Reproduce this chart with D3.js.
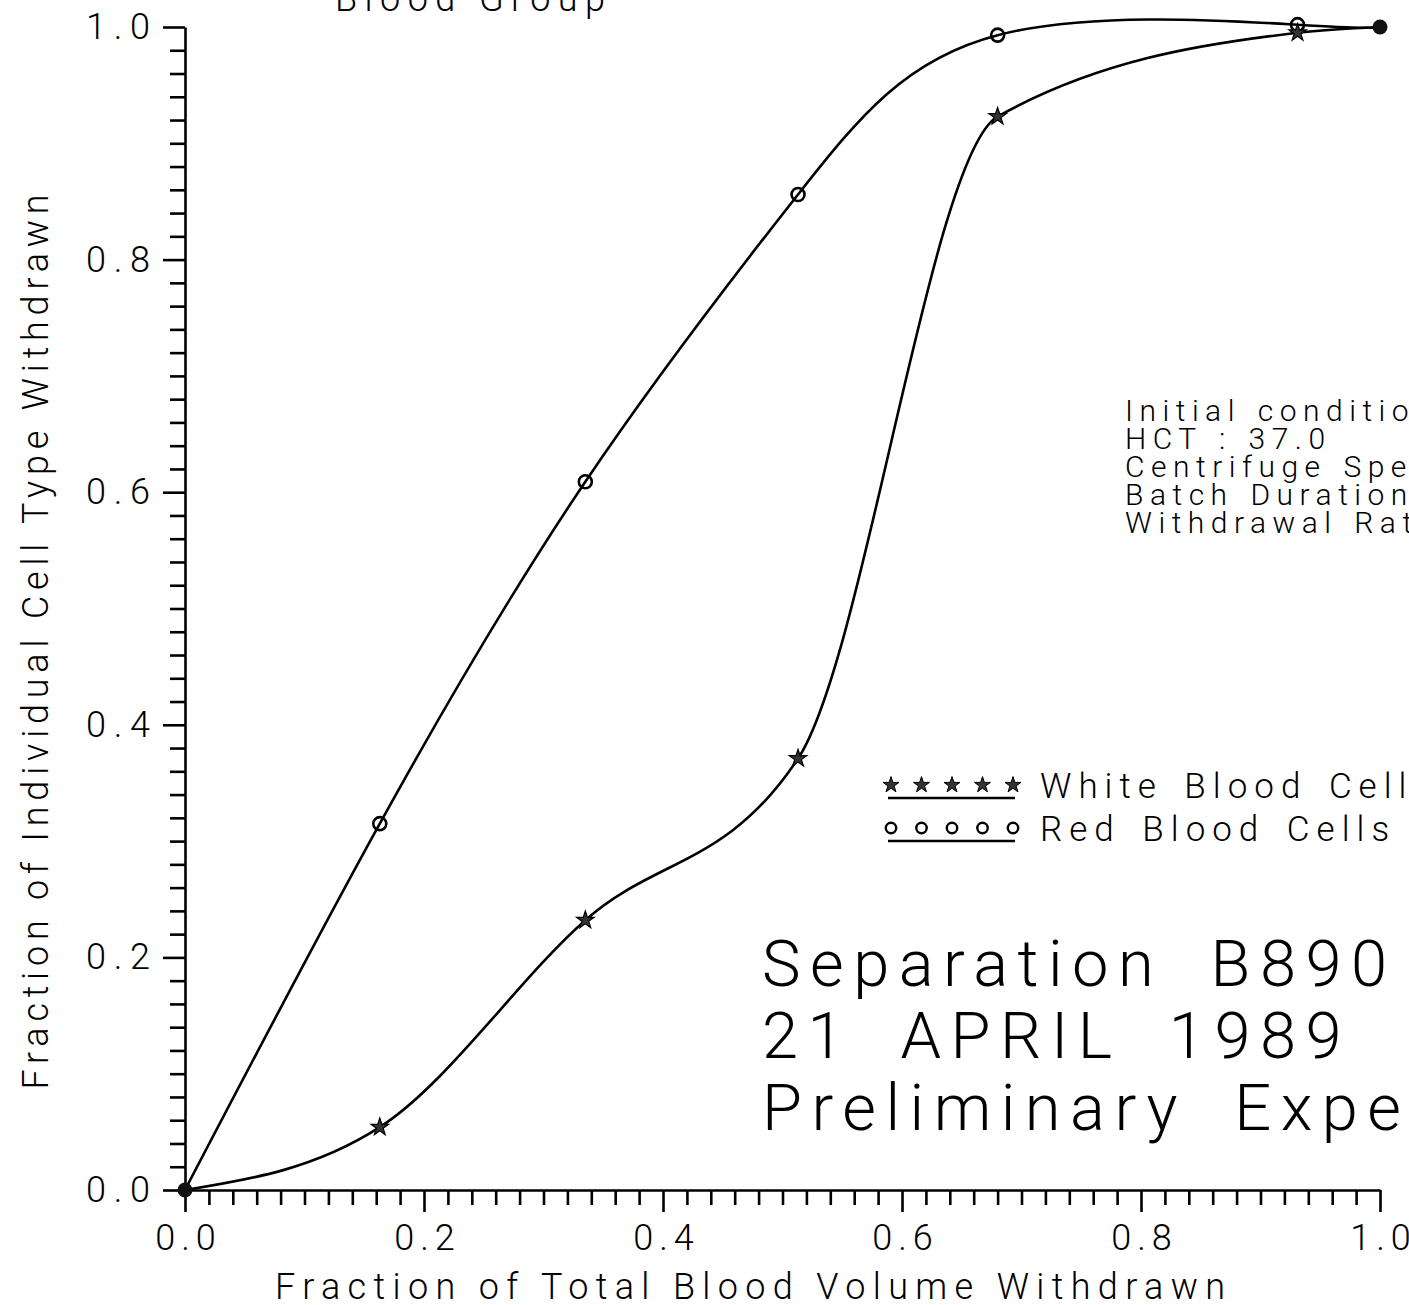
<!DOCTYPE html>
<html><head><meta charset="utf-8">
<script src="https://cdn.jsdelivr.net/npm/d3@7"></script>
<style>
body{margin:0;background:#fff}
svg{display:block}
text{font-family:Roboto,'DejaVu Sans',sans-serif;font-weight:300;fill:#000}
</style>
</head><body>
<svg id="c" width="1409" height="1305"></svg>
<script>
// ---- data ----
const fracVolume = [0, 0.163, 0.335, 0.513, 0.680, 0.931, 1.0];
const redCells   = [0, 0.315, 0.609, 0.856, 0.993, 1.002, 1.0];
const whiteCells = [0, 0.054, 0.232, 0.371, 0.923, 0.995, 1.0];
const majorTicks = [0, 0.2, 0.4, 0.6, 0.8, 1.0];
const tickLabels = ["0.0", "0.2", "0.4", "0.6", "0.8", "1.0"];
const legendLabels = ["White Blood Cells", "Red Blood Cells"];
const conditionLines = ["Initial conditions", "HCT : 37.0", "Centrifuge Speed", "Batch Duration", "Withdrawal Rate"];
const titleLines = ["Separation B890", "21 APRIL 1989", "Preliminary Experiment"];
const topTitle = "Blood Group";
const xTitle = "Fraction of Total Blood Volume Withdrawn";
const yTitle = "Fraction of Individual Cell Type Withdrawn";

const svg = d3.select("#c");
const x = d3.scaleLinear().domain([0, 1]).range([185, 1380]);
const y = d3.scaleLinear().domain([0, 1]).range([1190, 27]);
const minorTicks = d3.range(0, 51).map(i => i / 50).filter(v => Math.round(v * 50) % 10 !== 0);
const fmt = d => tickLabels[majorTicks.findIndex(t => Math.abs(t - d) < 1e-9)];

function styleAxis(g) {
  g.selectAll("path,line").attr("stroke", "#000").attr("stroke-width", 2.6);
}

// y axis
const gy = svg.append("g").attr("transform", `translate(${x(0)},0)`);
gy.call(d3.axisLeft(y).tickValues(majorTicks).tickSize(22).tickSizeOuter(0).tickPadding(13).tickFormat(fmt));
gy.append("g").call(d3.axisLeft(y).tickValues(minorTicks).tickSize(15).tickSizeOuter(0).tickFormat(""))
  .select(".domain").remove();
styleAxis(gy);
gy.selectAll("text").attr("font-size", 36).attr("textLength", 64).attr("lengthAdjust", "spacing");

// x axis
const gx = svg.append("g").attr("transform", `translate(0,${y(0)})`);
gx.call(d3.axisBottom(x).tickValues(majorTicks).tickSize(22).tickSizeOuter(0).tickFormat(fmt));
gx.append("g").call(d3.axisBottom(x).tickValues(minorTicks).tickSize(15).tickSizeOuter(0).tickFormat(""))
  .select(".domain").remove();
styleAxis(gx);
gx.selectAll("text").attr("font-size", 36).attr("y", 60).attr("dy", 0)
  .attr("letter-spacing", 6).attr("dx", 3);

// curves
const redPts = fracVolume.map((v, i) => [v, redCells[i]]);
const whitePts = fracVolume.map((v, i) => [v, whiteCells[i]]);
const redLine = d3.line().curve(d3.curveNatural).x(d => x(d[0])).y(d => y(d[1]));
const whiteLine = d3.line().curve(d3.curveMonotoneX).x(d => x(d[0])).y(d => y(d[1]));
svg.append("path").attr("d", redLine(redPts))
  .attr("fill", "none").attr("stroke", "#000").attr("stroke-width", 2.6);
svg.append("path").attr("d", whiteLine(whitePts))
  .attr("fill", "none").attr("stroke", "#000").attr("stroke-width", 2.6);

// markers
const star = d3.symbol().type(d3.symbolStar).size(95);
svg.selectAll(".rm").data(redPts.slice(1, -1)).join("circle")
  .attr("cx", d => x(d[0])).attr("cy", d => y(d[1])).attr("r", 6.5)
  .attr("fill", "none").attr("stroke", "#000").attr("stroke-width", 2.6);
svg.selectAll(".wm").data(whitePts.slice(1, -1)).join("path")
  .attr("d", star).attr("transform", d => `translate(${x(d[0])},${y(d[1])})`)
  .attr("fill", "#333").attr("stroke", "#000").attr("stroke-width", 1.2);
svg.selectAll(".em").data([redPts[0], redPts[redPts.length - 1]]).join("circle")
  .attr("cx", d => x(d[0])).attr("cy", d => y(d[1])).attr("r", 7.5).attr("fill", "#111");

// legend
const lg = svg.append("g");
legendLabels.forEach((lab, i) => {
  const yy = 785 + i * 43;
  for (let k = 0; k < 5; k++) {
    const cx = 891 + k * 30.5;
    if (i === 0) lg.append("path").attr("d", d3.symbol().type(d3.symbolStar).size(80)())
      .attr("transform", `translate(${cx},${yy})`).attr("fill", "#333").attr("stroke", "#000").attr("stroke-width", 1);
    else lg.append("circle").attr("cx", cx).attr("cy", yy).attr("r", 5.2)
      .attr("fill", "none").attr("stroke", "#000").attr("stroke-width", 2.4);
  }
  lg.append("line").attr("x1", 888).attr("x2", 1015).attr("y1", yy + 13).attr("y2", yy + 13)
    .attr("stroke", "#000").attr("stroke-width", 2.6);
  lg.append("text").attr("x", 1040).attr("y", yy + 13).attr("font-size", 35)
    .attr("letter-spacing", 7).attr("word-spacing", 6).text(lab);
});

// conditions block
conditionLines.forEach((t, i) => {
  svg.append("text").attr("x", 1125).attr("y", 421 + i * 28).attr("font-size", 30)
    .attr("letter-spacing", 6.5).attr("word-spacing", 3).text(t);
});

// big title block
titleLines.forEach((t, i) => {
  svg.append("text").attr("x", 762).attr("y", 986 + i * 72).attr("font-size", 65)
    .attr("letter-spacing", 9.5).attr("word-spacing", 22).text(t);
});

// top title (partly cut)
svg.append("text").attr("x", 470).attr("y", 11).attr("text-anchor", "middle").attr("font-size", 36)
  .attr("textLength", 270).attr("lengthAdjust", "spacing").text(topTitle);

// axis titles
svg.append("text").attr("x", 750).attr("y", 1299).attr("text-anchor", "middle").attr("font-size", 36)
  .attr("textLength", 950).attr("lengthAdjust", "spacing").text(xTitle);
svg.append("text").attr("transform", "translate(48,642) rotate(-90)").attr("text-anchor", "middle")
  .attr("font-size", 36).attr("textLength", 895).attr("lengthAdjust", "spacing").text(yTitle);
</script>
</body></html>
